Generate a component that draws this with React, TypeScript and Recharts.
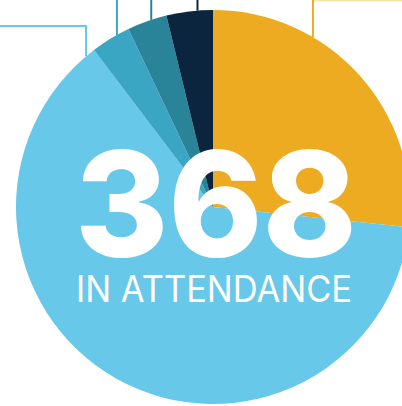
import React from "react";
import { PieChart, Pie, Cell } from "recharts";

const categories = ["Orange group", "Light blue group", "Blue group", "Teal group", "Navy group"];
const values = [98, 232, 12, 12, 14];
const colors = ["#EDAB22", "#68C8E9", "#3AA6C4", "#2A8499", "#0A253D"];
const totalLabel = "368";
const subtitle = "IN ATTENDANCE";

// fraction along each slice where its leader line leaves the pie
const leaderFraction = [0.318, 0.987, 0.68, 0.61, 0.67];

const data = categories.map((name, i) => ({ name, value: values[i] }));

const W = 402;
const H = 406;

const RAD = Math.PI / 180;

const CenterText = () => (
  <g>
    <text
      x={75}
      y={257}
      textAnchor="start"
      fill="#ffffff"
      fontFamily="Inter, 'Open Sans', sans-serif"
      fontWeight={800}
      fontSize={147}
      textLength={282}
      lengthAdjust="spacingAndGlyphs"
    >
      {totalLabel}
    </text>
    <text
      x={76}
      y={302}
      textAnchor="start"
      fill="#ffffff"
      fontFamily="Inter, 'Open Sans', sans-serif"
      fontWeight={400}
      fontSize={37}
      textLength={276}
      lengthAdjust="spacingAndGlyphs"
    >
      {subtitle}
    </text>
  </g>
);

const renderLeader = (props: any) => {
  const { cx, cy, outerRadius, index } = props;
  let { startAngle, endAngle } = props;
  if (startAngle === undefined || endAngle === undefined) {
    startAngle = props.midAngle;
    endAngle = props.midAngle;
  }
  const f = leaderFraction[index] ?? 0.5;
  const a = startAngle + f * (endAngle - startAngle);
  const x = cx + outerRadius * Math.cos(a * RAD);
  const y = cy - outerRadius * Math.sin(a * RAD);
  const c = colors[index];
  if (index === 1) {
    const top = 26;
    return (
      <g key={`l${index}`}>
        <polyline points={`${x},${y} ${x},${top} 0,${top}`} fill="none" stroke={c} strokeWidth={2} />
      </g>
    );
  }
  if (index === 0) {
    return (
      <g key={`l${index}`}>
        <line x1={x} y1={y} x2={x} y2={0} stroke={c} strokeWidth={2} />
        <line x1={x} y1={0.5} x2={W} y2={0.5} stroke={c} strokeOpacity={0.35} strokeWidth={2} />
      </g>
    );
  }
  if (index === values.length - 1) {
    return (
      <g key={`l${index}`}>
        <line x1={x} y1={y} x2={x} y2={0} stroke={c} strokeWidth={2} />
        <CenterText />
      </g>
    );
  }
  return (
    <g key={`l${index}`}>
      <line x1={x} y1={y} x2={x} y2={0} stroke={c} strokeWidth={2} />
    </g>
  );
};

export default function App() {
  return (
    <div style={{ position: "absolute", left: 0, top: 0, width: W, height: H, background: "#ffffff" }}>
      <PieChart width={W} height={H} margin={{ top: 0, right: 0, bottom: 0, left: 0 }}>
        <Pie
          data={data}
          dataKey="value"
          nameKey="name"
          cx={213}
          cy={207}
          innerRadius={0}
          outerRadius={197}
          startAngle={90}
          endAngle={-270}
          stroke="none"
          label={renderLeader}
          labelLine={false}
          isAnimationActive={false}
        >
          {data.map((d, i) => (
            <Cell key={d.name} fill={colors[i]} />
          ))}
        </Pie>
      </PieChart>
    </div>
  );
}
